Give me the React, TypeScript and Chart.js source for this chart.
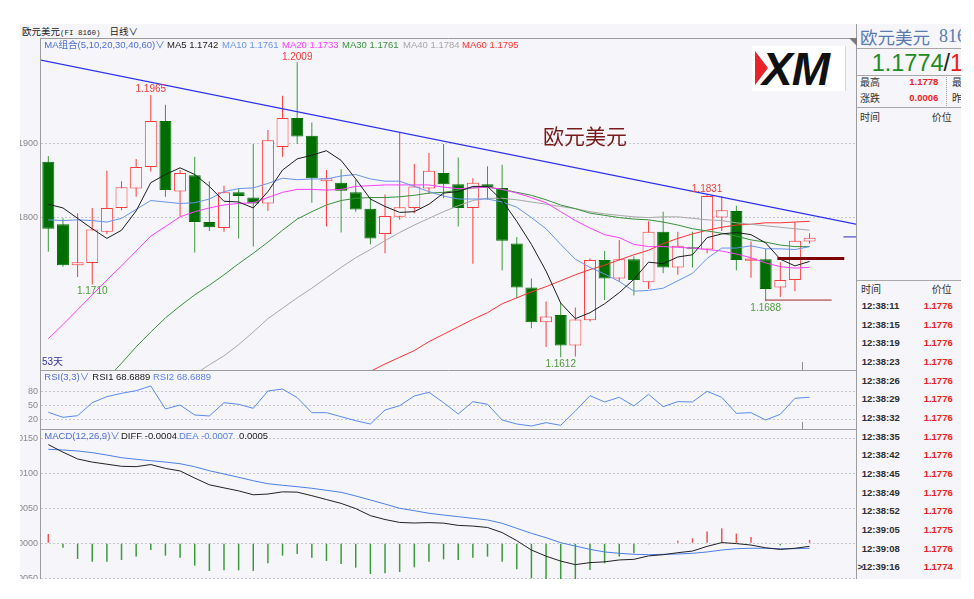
import React, { useEffect, useRef } from 'react';
import { Chart, registerables } from 'chart.js';

Chart.register(...registerables);

// ---------------- data ----------------
const candleOpen = [
  1.1875, 1.1791, 1.1736, 1.1739, 1.1781, 1.1813, 1.1839, 1.1868, 1.1930, 1.1835,
  1.1857, 1.1794, 1.1786, 1.1834, 1.1827, 1.1819, 1.1895, 1.1934, 1.1910, 1.1849,
  1.1847, 1.1834, 1.1812, 1.1778, 1.1801, 1.1813, 1.1839, 1.1860, 1.1845, 1.1813,
  1.1845, 1.1840, 1.1765, 1.1706, 1.1659, 1.1669, 1.1628, 1.1662, 1.1743, 1.1718,
  1.1744, 1.1713, 1.1781, 1.1733, 1.1760, 1.1757, 1.1800, 1.1809, 1.1742, 1.1744,
  1.1706, 1.1716, 1.1768,
];
const candleHigh = [
  1.1883, 1.1799, 1.1806, 1.1813, 1.1863, 1.1849, 1.1879, 1.1965, 1.1952, 1.1864,
  1.1882, 1.1849, 1.1843, 1.1840, 1.1899, 1.1918, 1.1964, 1.2009, 1.1928, 1.1864,
  1.1865, 1.1851, 1.1828, 1.1831, 1.1914, 1.1872, 1.1887, 1.1899, 1.1881, 1.1853,
  1.1869, 1.1871, 1.1774, 1.1718, 1.1687, 1.1685, 1.1679, 1.1745, 1.1755, 1.1770,
  1.1748, 1.1795, 1.1808, 1.1781, 1.1781, 1.1831, 1.1829, 1.1816, 1.1768, 1.1758,
  1.1740, 1.1794, 1.1779,
];
const candleLow = [
  1.1754, 1.1734, 1.1720, 1.1710, 1.1778, 1.1810, 1.1828, 1.1862, 1.1828, 1.1801,
  1.1753, 1.1782, 1.1781, 1.1772, 1.1761, 1.1809, 1.1882, 1.1899, 1.1820, 1.1788,
  1.1780, 1.1808, 1.1764, 1.1752, 1.1797, 1.1806, 1.1832, 1.1826, 1.1788, 1.1738,
  1.1824, 1.1729, 1.1691, 1.1651, 1.1626, 1.1612, 1.1613, 1.1660, 1.1689, 1.1714,
  1.1695, 1.1704, 1.1725, 1.1723, 1.1733, 1.1752, 1.1782, 1.1729, 1.1719, 1.1688,
  1.1693, 1.1701, 1.1765,
];
const candleClose = [
  1.1785, 1.1736, 1.1740, 1.1784, 1.1813, 1.1841, 1.1868, 1.1930, 1.1837, 1.1860,
  1.1794, 1.1787, 1.1834, 1.1829, 1.1819, 1.1904, 1.1934, 1.1909, 1.1853, 1.1853,
  1.1836, 1.1811, 1.1772, 1.1802, 1.1814, 1.1842, 1.1863, 1.1845, 1.1813, 1.1847,
  1.1840, 1.1769, 1.1706, 1.1659, 1.1667, 1.1628, 1.1663, 1.1743, 1.1718, 1.1744,
  1.1716, 1.1781, 1.1733, 1.1762, 1.1758, 1.1829, 1.1810, 1.1743, 1.1745, 1.1704,
  1.1716, 1.1769, 1.1773,
];

const ma5 = [
  1.1818, 1.1813, 1.1799, 1.1785, 1.1772, 1.1783, 1.1809, 1.1847, 1.1858, 1.1867,
  1.1858, 1.1842, 1.1822, 1.1821, 1.1813, 1.1835, 1.1864, 1.1879, 1.1884, 1.1890,
  1.1877, 1.1852, 1.1825, 1.1815, 1.1807, 1.1808, 1.1818, 1.1833, 1.1835, 1.1842,
  1.1842, 1.1823, 1.1795, 1.1764, 1.1728, 1.1685, 1.1664, 1.1672, 1.1684, 1.1699,
  1.1717, 1.1740, 1.1738, 1.1747, 1.1750, 1.1773, 1.1778, 1.1780, 1.1777, 1.1766,
  1.1744, 1.1735, 1.1741,
];
const ma10 = [
  1.1797, 1.1796, 1.1797, 1.1796, 1.1794, 1.1799, 1.1811, 1.1823, 1.1821, 1.1819,
  1.1820, 1.1825, 1.1835, 1.1839, 1.1840, 1.1846, 1.1853, 1.1851, 1.1852, 1.1852,
  1.1856, 1.1858, 1.1852, 1.1849, 1.1849, 1.1842, 1.1835, 1.1829, 1.1825, 1.1825,
  1.1825, 1.1821, 1.1814, 1.1800, 1.1785, 1.1764, 1.1744, 1.1733, 1.1724, 1.1714,
  1.1701, 1.1702, 1.1705, 1.1715, 1.1725, 1.1745, 1.1759, 1.1759, 1.1762, 1.1758,
  1.1758, 1.1757, 1.1761,
];
const ma20 = [
  1.1637, 1.1656, 1.1676, 1.1696, 1.1716, 1.1735, 1.1755, 1.1775, 1.1788, 1.1801,
  1.1808, 1.1813, 1.1817, 1.1819, 1.1820, 1.1827, 1.1834, 1.1838, 1.1838, 1.1837,
  1.1838, 1.1842, 1.1843, 1.1844, 1.1844, 1.1844, 1.1844, 1.1841, 1.1839, 1.1840,
  1.1841, 1.1838, 1.1833, 1.1827, 1.1820, 1.1808, 1.1796, 1.1786, 1.1777, 1.1773,
  1.1764, 1.1761, 1.1761, 1.1760, 1.1759, 1.1757, 1.1755, 1.1751, 1.1746, 1.1739,
  1.1734, 1.1732, 1.1733,
];
const ma30 = [
  null, null, null, null, 1.1583, 1.1604, 1.1626, 1.1646, 1.1665, 1.1681,
  1.1696, 1.1709, 1.1723, 1.1738, 1.1752, 1.1767, 1.1783, 1.1798, 1.1808, 1.1817,
  1.1823, 1.1826, 1.1827, 1.1827, 1.1828, 1.1830, 1.1833, 1.1834, 1.1837, 1.1840,
  1.1841, 1.1838, 1.1834, 1.1830, 1.1824, 1.1817, 1.1812, 1.1806, 1.1803, 1.1800,
  1.1798, 1.1797, 1.1794, 1.1790, 1.1785, 1.1782, 1.1779, 1.1775, 1.1770, 1.1767,
  1.1763, 1.1761, 1.1761,
];
const ma40 = [
  null, null, null, null, null, null, null, null, null, null,
  1.1589, 1.1602, 1.1614, 1.1629, 1.1646, 1.1664, 1.1678, 1.1692, 1.1705, 1.1719,
  1.1733, 1.1746, 1.1757, 1.1769, 1.1780, 1.1790, 1.1799, 1.1808, 1.1816, 1.1823,
  1.1826, 1.1826, 1.1824, 1.1821, 1.1818, 1.1815, 1.1812, 1.1808, 1.1805, 1.1803,
  1.1801, 1.1800, 1.1801, 1.1801, 1.1799, 1.1797, 1.1796, 1.1793, 1.1791, 1.1789,
  1.1787, 1.1785, 1.1783,
];
const ma60 = [
  null, null, null, null, null, null, null, null, null, null,
  null, null, null, null, null, null, null, null, null, null,
  null, null, 1.1593, 1.1603, 1.1612, 1.1621, 1.1633, 1.1643, 1.1653, 1.1663,
  1.1672, 1.1684, 1.1692, 1.1700, 1.1707, 1.1715, 1.1723, 1.1730, 1.1736, 1.1743,
  1.1750, 1.1756, 1.1765, 1.1772, 1.1778, 1.1783, 1.1787, 1.1790, 1.1791, 1.1793,
  1.1793, 1.1794, 1.1795,
];

// drawn lines (index units on x, price on y)
const trendLine = [{ x: -0.52, y: 1.2012 }, { x: 55.24, y: 1.1791 }];
const markLineThick = [{ x: 49.8, y: 1.1745 }, { x: 54.37, y: 1.1745 }];
const markLineLow = [{ x: 48.96, y: 1.1689 }, { x: 53.51, y: 1.1689 }];
const lastPriceLine = [{ x: 54.31, y: 1.1774 }, { x: 55.24, y: 1.1774 }];

const extremeIndex = [7, 17, 45, 3, 35, 49];
const extremeValue = [1.1965, 1.2009, 1.1831, 1.1710, 1.1612, 1.1688];
const extremeIsHigh = [true, true, true, false, false, false];
const monthBreaks = [51.5];

const rsiValues = [
  36.5, 25.8, 29.2, 57.1, 70.0, 77.1, 82.8, 92.9, 43.6, 52.1,
  30.7, 28.6, 57.1, 53.6, 45.0, 82.1, 86.4, 67.9, 35.7, 35.7,
  27.1, 18.5, 11.4, 41.4, 50.7, 71.4, 79.3, 57.1, 32.9, 59.3,
  53.6, 20.0, 11.4, 7.1, 14.3, 8.6, 39.3, 72.1, 58.6, 68.6,
  50.0, 75.0, 48.6, 59.3, 58.6, 81.4, 68.6, 34.3, 35.7, 20.0,
  32.2, 66.4, 68.7,
];
const macdDiff = [
  0.0141, 0.01302, 0.01205, 0.0116, 0.0113, 0.011, 0.01095, 0.01125, 0.0107, 0.01034,
  0.00932, 0.00836, 0.00792, 0.00749, 0.00693, 0.00704, 0.00735, 0.00731, 0.0068, 0.00625,
  0.0057, 0.00496, 0.00395, 0.0034, 0.00298, 0.0029, 0.00296, 0.00288, 0.00256, 0.00246,
  0.00226, 0.00153, 0.00038, -0.00096, -0.00184, -0.00254, -0.00305, -0.00276, -0.00265, -0.00238,
  -0.00229, -0.0018, -0.00163, -0.00134, -0.00111, -0.00044, 0.0001, -0.00004, -0.00025, -0.00064,
  -0.00088, -0.00071, -0.00043,
];
const macdDea = [
  0.01343, 0.01333, 0.01319, 0.01295, 0.01261, 0.01223, 0.012, 0.0118, 0.01161, 0.01137,
  0.01094, 0.01037, 0.0099, 0.00943, 0.00894, 0.00851, 0.00829, 0.00809, 0.00786, 0.00757,
  0.00729, 0.00676, 0.00619, 0.00561, 0.005, 0.00466, 0.00429, 0.00404, 0.0038, 0.00357,
  0.00333, 0.00286, 0.00214, 0.00143, 0.0008, 0.00009, -0.00039, -0.00086, -0.00124, -0.00143,
  -0.00157, -0.00163, -0.00157, -0.00153, -0.00143, -0.00124, -0.00096, -0.00077, -0.00071, -0.00071,
  -0.00077, -0.00077, -0.00071,
];
const macdHist = [
  0.00133, -0.00062, -0.00224, -0.00262, -0.00262, -0.00238, -0.0019, -0.00095, -0.00176, -0.00205,
  -0.00319, -0.00395, -0.00386, -0.00386, -0.00395, -0.00286, -0.00176, -0.00152, -0.00205, -0.00252,
  -0.00295, -0.00348, -0.00438, -0.00429, -0.0041, -0.00343, -0.00262, -0.00229, -0.00238, -0.00205,
  -0.0019, -0.00262, -0.00371, -0.005, -0.00514, -0.0051, -0.00524, -0.00381, -0.00286, -0.0019,
  -0.00143, -0.00014, -0.00005, 0.00038, 0.00071, 0.00167, 0.00214, 0.00138, 0.0009, 0.0001,
  -0.00029, 0.0001, 0.00048,
];

const priceTicks = [1.18, 1.19];
const rsiTicks = [20, 50, 80];
const macdTicks = [-0.005, 0, 0.005, 0.01, 0.015];

const indexRange = [-0.5, 55.24];
const priceRange = [1.159489, 1.204172];
const rsiRange = [0.7, 127.1];
const macdRange = [-0.007957, 0.016329];

const maNames = ['MA5', 'MA10', 'MA20', 'MA30', 'MA40', 'MA60'];
const maLatest = ['1.1742', '1.1761', '1.1733', '1.1761', '1.1784', '1.1795'];
const rsiLatest = ['68.6889', '68.6889'];
const macdLatest = ['-0.0004', '-0.0007', '0.0005'];

const tradeTimes = [
  '12:38:11', '12:38:15', '12:38:19', '12:38:23', '12:38:26', '12:38:29', '12:38:32', '12:38:35',
  '12:38:42', '12:38:45', '12:38:49', '12:38:52', '12:39:05', '12:39:08', '12:39:16',
];
const tradePrices = [
  '1.1776', '1.1776', '1.1776', '1.1776', '1.1776', '1.1776', '1.1776', '1.1776',
  '1.1776', '1.1776', '1.1776', '1.1776', '1.1775', '1.1776', '1.1774',
];

// ---------------- styles ----------------
const BG = '#F5F5FA';
const FRAME = '#9C9C9C';
const GRID = '#C6C6CC';
const UP = '#FF3B3B';
const DOWN_BODY = '#006E00';
const DOWN_WICK = '#3E9A3E';
const MA_COLORS = ['#1E1E1E', '#6A93EE', '#FF3DFF', '#3A923A', '#A8A8A8', '#FF3232'];
const LEGEND_BLUE = '#4F6FD8';
const FONT = '"Liberation Sans", "Noto Sans CJK SC", sans-serif';
const CJK = '"Noto Sans CJK SC", "Liberation Sans", sans-serif';

const cut4 = (v: any) => Math.abs(Number(v)).toFixed(4).slice(-4);

function xAxis() {
  return { type: 'linear', min: indexRange[0], max: indexRange[1], display: false, offset: false };
}

function yAxis(range: number[], ticks: number[], fmt: (v: any) => string) {
  return {
    type: 'linear',
    position: 'left',
    min: range[0],
    max: range[1],
    beginAtZero: false,
    afterFit: (s: any) => {
      s.width = 21;
      s.paddingTop = 0;
      s.paddingBottom = 0;
    },
    afterBuildTicks: (s: any) => {
      s.ticks = ticks.map((v) => ({ value: v }));
    },
    ticks: {
      callback: fmt,
      autoSkip: false,
      maxRotation: 0,
      padding: 3,
      color: '#8A8A8A',
      font: { family: '"Liberation Sans", sans-serif', size: 9 },
    },
    grid: { color: GRID, drawTicks: false, lineWidth: 1 },
    border: { display: false, dash: [2, 2] },
  };
}

function baseOptions(yOpts: any) {
  return {
    responsive: false,
    maintainAspectRatio: false,
    animation: false,
    devicePixelRatio: 1,
    events: [],
    layout: { padding: 0 },
    plugins: { legend: { display: false }, tooltip: { enabled: false } },
    scales: { x: xAxis(), y: yOpts },
  };
}

function paintBg(chart: any) {
  const { ctx, width, height } = chart;
  ctx.save();
  ctx.fillStyle = BG;
  ctx.fillRect(0, 0, width, height);
  ctx.restore();
}

function frame(chart: any) {
  const { ctx, chartArea: ca } = chart;
  ctx.save();
  ctx.strokeStyle = FRAME;
  ctx.lineWidth = 1;
  ctx.beginPath();
  ctx.moveTo(ca.left - 0.5, ca.top);
  ctx.lineTo(ca.left - 0.5, ca.bottom);
  ctx.moveTo(ca.left - 1, ca.top + 0.5);
  ctx.lineTo(ca.right, ca.top + 0.5);
  ctx.moveTo(ca.right - 0.5, ca.top);
  ctx.lineTo(ca.right - 0.5, ca.bottom);
  ctx.stroke();
  ctx.restore();
}

function monthTicks(chart: any, len: number) {
  const { ctx, chartArea: ca, scales } = chart;
  ctx.save();
  ctx.strokeStyle = '#8C8C8C';
  ctx.lineWidth = 1;
  monthBreaks.forEach((m) => {
    const px = Math.round(scales.x.getPixelForValue(m)) + 0.5;
    ctx.beginPath();
    ctx.moveTo(px, ca.bottom - len);
    ctx.lineTo(px, ca.bottom);
    ctx.stroke();
  });
  ctx.restore();
}

function drawTexts(ctx: any, left: number, y: number, items: { t: string; c: string; dx: number }[]) {
  ctx.save();
  ctx.font = `9.5px ${FONT}`;
  ctx.textBaseline = 'middle';
  ctx.textAlign = 'left';
  items.forEach((it) => {
    ctx.fillStyle = it.c;
    ctx.fillText(it.t, left + it.dx, y);
  });
  ctx.restore();
}

const mainDecor = {
  id: 'mainDecor',
  beforeDraw: paintBg,
  afterDraw(chart: any) {
    const { ctx, chartArea: ca, scales } = chart;
    frame(chart);
    monthTicks(chart, 8);
    const dxs = [126, 181, 241, 301, 362, 421];
    drawTexts(ctx, ca.left, ca.top + 7.5, [
      { t: 'MA组合(5,10,20,30,40,60)∨', c: LEGEND_BLUE, dx: 3.3 },
      ...maNames.map((n, i) => ({ t: `${n} ${maLatest[i]}`, c: MA_COLORS[i], dx: dxs[i] })),
    ]);
    ctx.save();
    ctx.font = `10px ${FONT}`;
    ctx.textAlign = 'center';
    extremeIndex.forEach((idx, k) => {
      const px = scales.x.getPixelForValue(idx);
      const py = scales.y.getPixelForValue(extremeValue[k]);
      if (extremeIsHigh[k]) {
        ctx.fillStyle = '#F23A3A';
        ctx.textBaseline = 'bottom';
        ctx.fillText(extremeValue[k].toFixed(4), px, py - 0.5);
      } else {
        ctx.fillStyle = '#4F9A3C';
        ctx.textBaseline = 'top';
        ctx.fillText(extremeValue[k].toFixed(4), px, py + 2);
      }
    });
    ctx.restore();
    ctx.save();
    ctx.font = `21px ${CJK}`;
    ctx.fillStyle = '#7A1A1A';
    ctx.textAlign = 'center';
    ctx.textBaseline = 'middle';
    ctx.fillText('欧元美元', ca.left + 544, ca.top + 98.5);
    ctx.font = `10px ${FONT}`;
    ctx.fillStyle = '#34349E';
    ctx.textAlign = 'left';
    ctx.fillText('53天', ca.left + 1, ca.bottom - 8);
    ctx.fillStyle = '#7A7A7A';
    ctx.beginPath();
    ctx.moveTo(ca.right, ca.top);
    ctx.lineTo(ca.right - 8, ca.top);
    ctx.lineTo(ca.right, ca.top + 8);
    ctx.closePath();
    ctx.fill();
    ctx.restore();
  },
};

const rsiDecor = {
  id: 'rsiDecor',
  beforeDraw: paintBg,
  afterDraw(chart: any) {
    const { ctx, chartArea: ca } = chart;
    frame(chart);
    monthTicks(chart, 7);
    drawTexts(ctx, ca.left, ca.top + 7, [
      { t: 'RSI(3,3)∨', c: LEGEND_BLUE, dx: 3.3 },
      { t: `RSI1 ${rsiLatest[0]}`, c: '#222', dx: 51.3 },
      { t: `RSI2 ${rsiLatest[1]}`, c: '#5A82E6', dx: 112 },
    ]);
  },
};

const macdDecor = {
  id: 'macdDecor',
  beforeDraw: paintBg,
  afterDraw(chart: any) {
    const { ctx, chartArea: ca } = chart;
    frame(chart);
    drawTexts(ctx, ca.left, ca.top + 7.7, [
      { t: 'MACD(12,26,9)∨', c: LEGEND_BLUE, dx: 3.3 },
      { t: `DIFF ${macdLatest[0]}`, c: '#222', dx: 80 },
      { t: `DEA ${macdLatest[1]}`, c: '#5A82E6', dx: 138 },
      { t: macdLatest[2], c: '#222', dx: 198 },
    ]);
  },
};

const up = (i: number) => candleClose[i] >= candleOpen[i];

function lineDs(vals: (number | null)[], color: string, order: number) {
  return {
    type: 'line',
    data: vals.map((v, i) => (v == null ? null : { x: i, y: v })).filter((p) => p !== null),
    borderColor: color,
    borderWidth: 1,
    pointRadius: 0,
    tension: 0,
    fill: false,
    order,
  };
}

function segDs(pts: { x: number; y: number }[], color: string, width: number, order: number) {
  return { type: 'line', data: pts, borderColor: color, borderWidth: width, pointRadius: 0, fill: false, order };
}

function mainConfig(): any {
  return {
    type: 'bar',
    data: {
      datasets: [
        {
          type: 'bar',
          data: candleLow.map((l, i) => ({ x: i, y: [l, candleHigh[i]] })),
          backgroundColor: candleLow.map((_, i) => (up(i) ? UP : DOWN_WICK)),
          borderWidth: 0,
          barThickness: 1,
          grouped: false,
          inflateAmount: 0,
          order: 20,
        },
        {
          type: 'bar',
          data: candleOpen.map((o, i) => ({ x: i, y: [o, candleClose[i]] })),
          backgroundColor: candleOpen.map((_, i) => (up(i) ? BG : DOWN_BODY)),
          borderColor: candleOpen.map((_, i) => (up(i) ? UP : DOWN_BODY)),
          borderWidth: 1,
          borderSkipped: false,
          barThickness: 12,
          grouped: false,
          inflateAmount: 0,
          order: 19,
        },
        lineDs(ma60, MA_COLORS[5], 8),
        lineDs(ma40, MA_COLORS[4], 7),
        lineDs(ma30, MA_COLORS[3], 6),
        lineDs(ma20, MA_COLORS[2], 5),
        lineDs(ma10, MA_COLORS[1], 4),
        lineDs(ma5, MA_COLORS[0], 3),
        segDs(trendLine, '#2E2EF2', 1.2, 2),
        segDs(markLineLow, '#A02828', 1, 2),
        segDs(markLineThick, '#7E0000', 3, 1),
        segDs(lastPriceLine, '#2A2AC0', 1, 1),
      ],
    },
    options: baseOptions(yAxis(priceRange, priceTicks, cut4)),
    plugins: [mainDecor],
  };
}

function rsiConfig(): any {
  return {
    type: 'line',
    data: {
      datasets: [
        {
          data: rsiValues.map((v, i) => ({ x: i, y: v })),
          borderColor: '#5B8AEE',
          borderWidth: 1,
          pointRadius: 0,
          tension: 0,
          fill: false,
        },
      ],
    },
    options: baseOptions(yAxis(rsiRange, rsiTicks, (v: any) => String(v))),
    plugins: [rsiDecor],
  };
}

function valLine(vals: number[], color: string, order: number) {
  return {
    type: 'line',
    data: vals.map((v, i) => ({ x: i, y: v })),
    borderColor: color,
    borderWidth: 1,
    pointRadius: 0,
    tension: 0,
    fill: false,
    order,
  };
}

function macdConfig(): any {
  return {
    type: 'bar',
    data: {
      datasets: [
        {
          type: 'bar',
          data: macdHist.map((v, i) => ({ x: i, y: v })),
          backgroundColor: macdHist.map((v) => (v >= 0 ? '#F25252' : '#3C9C3C')),
          borderWidth: 0,
          barThickness: 1.5,
          grouped: false,
          inflateAmount: 0,
          order: 5,
        },
        valLine(macdDea, '#4E7FE6', 2),
        valLine(macdDiff, '#222222', 1),
      ],
    },
    options: baseOptions(yAxis(macdRange, macdTicks, cut4)),
    plugins: [macdDecor],
  };
}

// ---------------- component ----------------
const abs = (l: number, t: number, w: number, h: number, extra: any = {}) => ({
  position: 'absolute' as const,
  left: l,
  top: t,
  width: w,
  height: h,
  ...extra,
});

export default function App() {
  const mainRef = useRef<HTMLCanvasElement>(null);
  const rsiRef = useRef<HTMLCanvasElement>(null);
  const macdRef = useRef<HTMLCanvasElement>(null);

  useEffect(() => {
    const charts = [
      new Chart(mainRef.current as HTMLCanvasElement, mainConfig()),
      new Chart(rsiRef.current as HTMLCanvasElement, rsiConfig()),
      new Chart(macdRef.current as HTMLCanvasElement, macdConfig()),
    ];
    return () => charts.forEach((c) => c.destroy());
  }, []);

  const row = (txt: string, extra: any) => (
    <div style={{ position: 'absolute', whiteSpace: 'nowrap', ...extra }}>{txt}</div>
  );

  return (
    <div style={abs(0, 0, 974, 599, { background: '#fff', overflow: 'hidden', fontFamily: FONT })}>
      <div style={abs(20, 24, 941, 555, { background: BG })} />
      <div
        style={{
          position: 'absolute',
          left: 22,
          top: 25,
          lineHeight: '13px',
          fontSize: 9.5,
          color: '#222',
          whiteSpace: 'nowrap',
          fontFamily: CJK,
        }}
      >
        欧元美元
        <span style={{ fontFamily: '"Liberation Mono", monospace', fontSize: 7.5 }}>(FI 8160)</span>
        <span style={{ marginLeft: 9 }}>日线</span>
        <span style={{ fontFamily: FONT }}>∨</span>
      </div>

      <canvas ref={mainRef} width={837} height={332} style={abs(20, 38, 837, 332)} />
      <canvas ref={rsiRef} width={837} height={59} style={abs(20, 370, 837, 59)} />
      <canvas ref={macdRef} width={837} height={170} style={abs(20, 429, 837, 170)} />

      <div style={abs(752, 46, 93, 45, { background: '#fff', borderRight: '1px solid #d8d8d8', overflow: 'hidden' })}>
        <div
          style={{
            position: 'absolute',
            left: 3,
            top: 5,
            width: 0,
            height: 0,
            borderTop: '17px solid transparent',
            borderBottom: '17px solid transparent',
            borderLeft: '13px solid #E8232B',
          }}
        />
        <div
          style={{
            position: 'absolute',
            left: 10,
            top: 0,
            fontFamily: '"Liberation Sans", Arial, sans-serif',
            fontWeight: 700,
            fontStyle: 'italic',
            fontSize: 46,
            lineHeight: '46px',
            color: '#111',
            letterSpacing: -1,
          }}
        >
          XM
        </div>
      </div>

      <div style={abs(856, 24, 1, 14, { background: FRAME })} />
      <div style={abs(857, 24, 104, 555, { overflow: 'hidden', background: BG, color: '#333' })}>
        {row('欧元美元', { left: 3, top: 2, fontSize: 17.5, lineHeight: '21px', color: '#5A7BB0', fontFamily: CJK })}
        {row('8160', {
          left: 82,
          top: 2,
          fontSize: 18,
          lineHeight: '21px',
          color: '#5A7BB0',
          fontFamily: '"Liberation Serif", serif',
        })}
        <div style={abs(0, 24, 104, 1, { background: '#A8A8A8' })} />
        <div
          style={{
            position: 'absolute',
            left: 14.7,
            top: 26.7,
            fontSize: 23.5,
            lineHeight: '24px',
            whiteSpace: 'nowrap',
            fontFamily: '"Liberation Sans", sans-serif',
          }}
        >
          <span style={{ color: '#1E8C1E' }}>1.1774</span>
          <span style={{ color: '#222' }}>/</span>
          <span style={{ color: '#E81C1C' }}>1.1776</span>
        </div>
        <div style={abs(0, 51, 104, 1, { background: '#A8A8A8' })} />
        {row('最高', { left: 3, top: 51.5, fontSize: 10, lineHeight: '12px', fontFamily: CJK })}
        {row('1.1778', {
          right: 22.7,
          top: 51.5,
          fontSize: 9.5,
          lineHeight: '12px',
          fontWeight: 700,
          color: '#F01E1E',
        })}
        {row('涨跌', { left: 3, top: 68.3, fontSize: 10, lineHeight: '12px', fontFamily: CJK })}
        {row('0.0006', {
          right: 22.7,
          top: 68.3,
          fontSize: 9.5,
          lineHeight: '12px',
          fontWeight: 700,
          color: '#F01E1E',
        })}
        <div style={abs(89, 53, 0, 29, { borderLeft: '1px dotted #9a9a9a' })} />
        {row('最', { left: 95, top: 51.5, fontSize: 10, lineHeight: '12px', fontFamily: CJK })}
        {row('昨', { left: 95, top: 68.3, fontSize: 10, lineHeight: '12px', fontFamily: CJK })}
        <div style={abs(0, 83.3, 104, 1, { background: '#A8A8A8' })} />
        {row('时间', { left: 3, top: 86.7, fontSize: 10, lineHeight: '12px', fontFamily: CJK })}
        {row('价位', { right: 9.3, top: 86.7, fontSize: 10, lineHeight: '12px', fontFamily: CJK })}
        <div style={abs(0, 256, 104, 1, { background: '#A8A8A8' })} />
        {row('时间', { left: 4, top: 259.3, fontSize: 10, lineHeight: '12px', fontFamily: CJK })}
        {row('价位', { right: 9.3, top: 259.3, fontSize: 10, lineHeight: '12px', fontFamily: CJK })}
        {tradeTimes.map((t, k) => (
          <React.Fragment key={t + k}>
            {k === tradeTimes.length - 1 &&
              row('>', { left: 0.5, top: 276 + k * 18.67, fontSize: 9.5, lineHeight: '12px', fontWeight: 700 })}
            {row(t, {
              left: 4.7,
              top: 276 + k * 18.67,
              fontSize: 9.5,
              lineHeight: '12px',
              fontWeight: 700,
              color: '#2E2E2E',
            })}
            {row(tradePrices[k], {
              right: 8.3,
              top: 276 + k * 18.67,
              fontSize: 9.5,
              lineHeight: '12px',
              fontWeight: 700,
              color: '#F01E1E',
            })}
          </React.Fragment>
        ))}
      </div>

      <div style={abs(0, 579, 974, 20, { background: '#fff' })} />
    </div>
  );
}
